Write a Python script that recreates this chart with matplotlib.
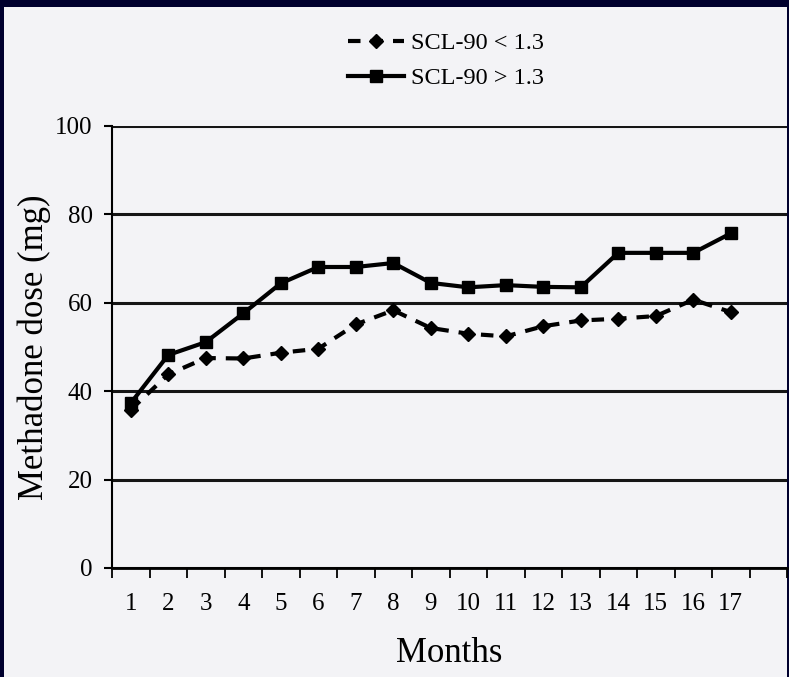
import matplotlib
matplotlib.use('Agg')
import matplotlib.pyplot as plt
from matplotlib.patches import Rectangle
import numpy as np

# data
months = list(range(1, 18))
low_scl = [35.8, 43.8, 47.5, 47.4, 48.7, 49.6, 55.1, 58.3, 54.3, 53.0, 52.4, 54.7, 56.0, 56.4, 57.0, 60.7, 57.9]
high_scl = [37.3, 48.2, 51.1, 57.6, 64.4, 68.1, 68.1, 69.0, 64.5, 63.5, 64.0, 63.6, 63.5, 71.3, 71.3, 71.3, 75.7]
labels = ['SCL-90 < 1.3', 'SCL-90 > 1.3']
yticks = [0, 20, 40, 60, 80, 100]

paper = '#f3f3f6'
navy = '#00002e'

plt.rcParams['font.family'] = ['Liberation Serif', 'DejaVu Serif']

fig = plt.figure(figsize=(7.89, 6.77), dpi=100, facecolor=navy)
# scanned page on top of the dark slide border
page = Rectangle((4/789., 0), 783/789., 1 - 7/677., transform=fig.transFigure,
                 facecolor=paper, edgecolor='none', zorder=-10)
fig.add_artist(page)

ax = fig.add_axes([112/789., 1 - 568/677., 675/789., 442/677.])
ax.set_facecolor(paper)

for v in yticks:
    ax.axhline(v, color='#151515', lw=2.2, zorder=1)

ax.plot(months, low_scl, color='black', lw=3, dashes=(3.0, 2.4),
        marker='D', markersize=7.5, label=labels[0], zorder=3)
ax.plot(months, high_scl, color='black', lw=3, linestyle='-',
        marker='s', markersize=8.5, label=labels[1], zorder=3)

ax.set_xlim(0.5, 18.5)
ax.set_ylim(0, 100)
ax.set_yticks(yticks)
ax.set_xticks(months)
ax.set_xticks(np.arange(0.5, 19, 1), minor=True)
ax.tick_params(axis='x', which='major', length=0, labelsize=18, pad=18)
ax.tick_params(axis='x', which='minor', length=7, width=1.3, direction='out')
ax.tick_params(axis='y', length=6, width=1.5, labelsize=18, pad=8)

for s in ['top', 'right']:
    ax.spines[s].set_visible(False)
ax.spines['left'].set_linewidth(1.5)
ax.spines['bottom'].set_linewidth(2.0)

ax.set_ylabel('Methadone dose (mg)', fontsize=25, labelpad=3)
ax.set_xlabel('Months', fontsize=25, labelpad=16)

fig.legend(loc='upper center', bbox_to_anchor=(0.565, 0.985), frameon=False,
           fontsize=17.5, handlelength=2.3, handletextpad=0.3, labelspacing=0.55,
           numpoints=1)

fig.savefig('out.png', dpi=100, facecolor=navy)
